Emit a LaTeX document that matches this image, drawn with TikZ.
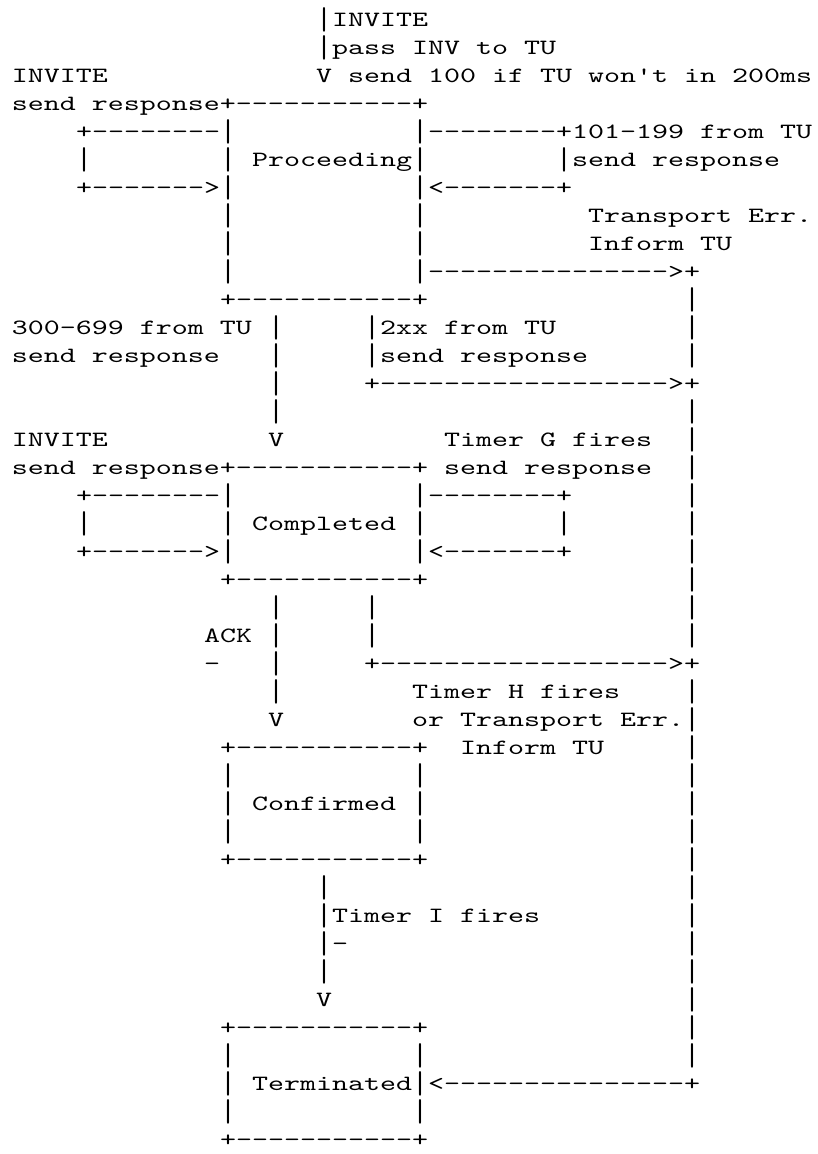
\documentclass[tikz,border=0pt]{standalone}
\usepackage{graphicx}
\usepackage{fontspec}
\setmonofont{lmmono10-regular}[Extension=.otf,FakeStretch=1.398]
% vertical bar glyph stretched to span the line like the reference
\newcommand\vb{\raisebox{-6pt}{\resizebox*{\width}{24.5pt}{\raisebox{\depth}{|}}}}
\newcommand\asc[4]{\node[txt] (#1) at ({12+16*#2},{82.3+(#3-2)*28}) {#4};}
\begin{document}
\begin{tikzpicture}[x=1pt,y=-1pt,
  txt/.style={anchor=base west,inner sep=0pt,outer sep=0pt,text=black,
    font=\ttfamily\fontsize{21.8}{28}\selectfont}]
\useasboundingbox[fill=white] (0,0) rectangle (817,1154);
% row 0-3
\asc{r0a}{19}{0}{\vb INVITE}
\asc{r1a}{19}{1}{\vb pass INV to TU}
\asc{r2a}{0}{2}{INVITE}
\asc{r2b}{19}{2}{V send 100 if TU won't in 200ms}
\asc{r3a}{0}{3}{send response+-----------+}
% Proceeding
\asc{r4a}{4}{4}{+--------\vb}
\asc{r4b}{25}{4}{\vb--------+101-199 from TU}
\asc{r5a}{4}{5}{\vb}
\asc{r5b}{13}{5}{\vb}
\asc{proceeding}{15}{5}{Proceeding\vb}
\asc{r5c}{34}{5}{\vb send response}
\asc{r6a}{4}{6}{+------->\vb}
\asc{r6b}{25}{6}{\vb<-------+}
\asc{r7a}{13}{7}{\vb}
\asc{r7b}{25}{7}{\vb}
\asc{r7c}{36}{7}{Transport Err.}
\asc{r8a}{13}{8}{\vb}
\asc{r8b}{25}{8}{\vb}
\asc{r8c}{36}{8}{Inform TU}
\asc{r9a}{13}{9}{\vb}
\asc{r9b}{25}{9}{\vb--------------->+}
\asc{r10a}{13}{10}{+-----------+}
\asc{r10b}{42}{10}{\vb}
% 300-699 / 2xx
\asc{r11a}{0}{11}{300-699 from TU \vb}
\asc{r11b}{22}{11}{\vb 2xx from TU}
\asc{r11c}{42}{11}{\vb}
\asc{r12a}{0}{12}{send response}
\asc{r12b}{16}{12}{\vb}
\asc{r12c}{22}{12}{\vb send response}
\asc{r12d}{42}{12}{\vb}
\asc{r13a}{16}{13}{\vb}
\asc{r13b}{22}{13}{+------------------>+}
\asc{r14a}{16}{14}{\vb}
\asc{r14b}{42}{14}{\vb}
\asc{r15a}{0}{15}{INVITE}
\asc{r15b}{16}{15}{V}
\asc{r15c}{27}{15}{Timer G fires}
\asc{r15d}{42}{15}{\vb}
% Completed
\asc{r16a}{0}{16}{send response+-----------+ send response}
\asc{r16b}{42}{16}{\vb}
\asc{r17a}{4}{17}{+--------\vb}
\asc{r17b}{25}{17}{\vb--------+}
\asc{r17c}{42}{17}{\vb}
\asc{r18a}{4}{18}{\vb}
\asc{r18b}{13}{18}{\vb}
\asc{completed}{15}{18}{Completed}
\asc{r18c}{25}{18}{\vb}
\asc{r18d}{34}{18}{\vb}
\asc{r18e}{42}{18}{\vb}
\asc{r19a}{4}{19}{+------->\vb}
\asc{r19b}{25}{19}{\vb<-------+}
\asc{r19c}{42}{19}{\vb}
\asc{r20a}{13}{20}{+-----------+}
\asc{r20b}{42}{20}{\vb}
\asc{r21a}{16}{21}{\vb}
\asc{r21b}{22}{21}{\vb}
\asc{r21c}{42}{21}{\vb}
\asc{r22a}{12}{22}{ACK \vb}
\asc{r22b}{22}{22}{\vb}
\asc{r22c}{42}{22}{\vb}
\asc{r23a}{12}{23}{-}
\asc{r23b}{16}{23}{\vb}
\asc{r23c}{22}{23}{+------------------>+}
\asc{r24a}{16}{24}{\vb}
\asc{r24b}{25}{24}{Timer H fires}
\asc{r24c}{42}{24}{\vb}
\asc{r25a}{16}{25}{V}
\asc{r25b}{25}{25}{or Transport Err.\vb}
% Confirmed
\asc{r26a}{13}{26}{+-----------+}
\asc{r26b}{28}{26}{Inform TU}
\asc{r26c}{42}{26}{\vb}
\asc{r27a}{13}{27}{\vb}
\asc{r27b}{25}{27}{\vb}
\asc{r27c}{42}{27}{\vb}
\asc{r28a}{13}{28}{\vb}
\asc{confirmed}{15}{28}{Confirmed}
\asc{r28b}{25}{28}{\vb}
\asc{r28c}{42}{28}{\vb}
\asc{r29a}{13}{29}{\vb}
\asc{r29b}{25}{29}{\vb}
\asc{r29c}{42}{29}{\vb}
\asc{r30a}{13}{30}{+-----------+}
\asc{r30b}{42}{30}{\vb}
\asc{r31a}{19}{31}{\vb}
\asc{r31b}{42}{31}{\vb}
\asc{r32a}{19}{32}{\vb Timer I fires}
\asc{r32b}{42}{32}{\vb}
\asc{r33a}{19}{33}{\vb-}
\asc{r33b}{42}{33}{\vb}
\asc{r34a}{19}{34}{\vb}
\asc{r34b}{42}{34}{\vb}
\asc{r35a}{19}{35}{V}
\asc{r35b}{42}{35}{\vb}
% Terminated
\asc{r36a}{13}{36}{+-----------+}
\asc{r36b}{42}{36}{\vb}
\asc{r37a}{13}{37}{\vb}
\asc{r37b}{25}{37}{\vb}
\asc{r37c}{42}{37}{\vb}
\asc{r38a}{13}{38}{\vb}
\asc{terminated}{15}{38}{Terminated\vb<---------------+}
\asc{r39a}{13}{39}{\vb}
\asc{r39b}{25}{39}{\vb}
\asc{r40a}{13}{40}{+-----------+}
\end{tikzpicture}
\end{document}
